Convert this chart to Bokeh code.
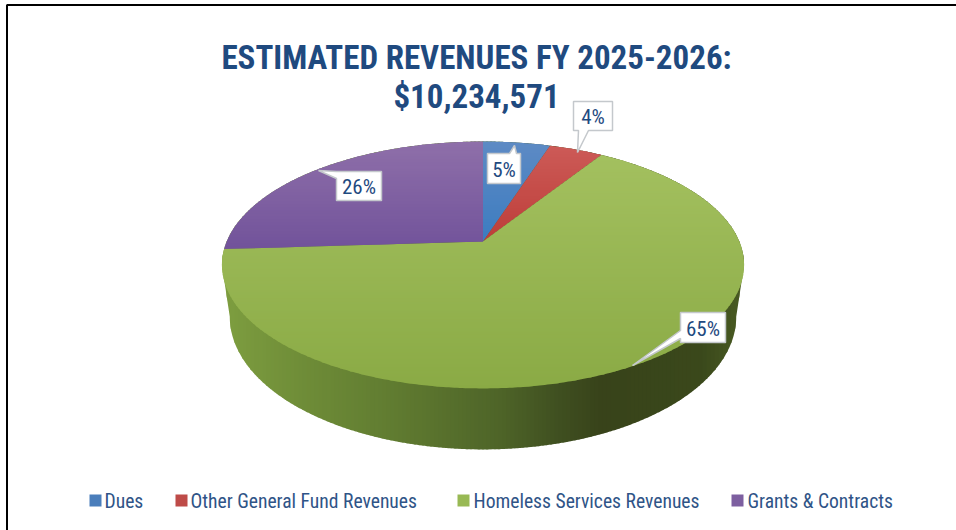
import numpy as np
from bokeh.plotting import figure
from bokeh.models import Range1d
from bokeh.core.properties import value
from bokeh.embed import file_html
from bokeh.resources import INLINE

# ---- data ----
categories = ["Dues", "Other General Fund Revenues", "Homeless Services Revenues", "Grants & Contracts"]
shares = [5, 4, 65, 26]
title_lines = ["ESTIMATED REVENUES FY 2025-2026:", "$10,234,571"]

# ---- styles ----
TITLE_FONT = "'Roboto Condensed', Roboto"
BODY_FONT = "'Roboto Condensed', Roboto"
NAVY = "#1f4a7f"
top_colours = [("#5d8ac4", "#3b7cc0"), ("#cc5a57", "#bd3d38"), ("#a3c05f", "#8aaa45"), ("#8e6fa9", "#71529a")]
swatches = ["#4a7ebb", "#be4b48", "#98b954", "#7d5fa0"]
side_stops_x = [221, 300, 400, 500, 560, 600, 700, 744]
side_stops_c = ["#7e9e40", "#6f8d38", "#5f7a30", "#4e6428", "#3f4f20", "#38431a", "#3a481b", "#4a5c23"]


def rgb(h):
    return np.array([int(h[i:i + 2], 16) for i in (1, 3, 5)], float)


def mix(a, b, t):
    c = rgb(a) * (1 - t) + rgb(b) * t
    return "#%02x%02x%02x" % tuple(int(round(v)) for v in c)


def ramp(xs, cs, x):
    i = int(np.clip(np.searchsorted(xs, x) - 1, 0, len(xs) - 2))
    t = float(np.clip((x - xs[i]) / (xs[i + 1] - xs[i]), 0, 1))
    return mix(cs[i], cs[i + 1], t)


# perspective projection of the pie disc on the page
AX, AY = 482.5, 241.0
C, A_, K = 0.19, 119.0, 256.3


def project(deg, r=1.0):
    t = np.radians(deg)
    u, v = r * np.sin(t), r * np.cos(t)
    d = 1 + C * v
    return AX + K * u / d, AY - A_ * v / d


def lower(x, y):
    return AX + 0.97 * (x - AX), AY + 50 + (y - AY) * 1.075


def clip(poly, axis, lo, hi):
    """Sutherland-Hodgman against a band on one axis."""
    def cut(pts, keep, bound):
        out = []
        for i in range(len(pts)):
            a, b = pts[i], pts[(i + 1) % len(pts)]
            ka, kb = keep(a[axis]), keep(b[axis])
            if ka:
                out.append(a)
            if ka != kb:
                t = (bound - a[axis]) / (b[axis] - a[axis])
                out.append((a[0] + t * (b[0] - a[0]), a[1] + t * (b[1] - a[1])))
        return out
    pts = cut(poly, lambda s: s >= lo, lo)
    if pts:
        pts = cut(pts, lambda s: s <= hi, hi)
    return pts


p = figure(width=956, height=530, output_backend="svg", toolbar_location=None, tools="",
           x_range=Range1d(0, 956), y_range=Range1d(530, 0), min_border=0,
           outline_line_color=None, background_fill_color="white", border_fill_color="white",
           styles={"position": "absolute", "left": "0px", "top": "0px"})
p.xaxis.visible = False
p.yaxis.visible = False
p.grid.visible = False

# page frame
p.line([6.5, 6.5, 956], [530, 4.5, 4.5], line_color="#000000", line_width=2)

# side wall
angles = np.linspace(0, 360, 721)
ux, uy = project(angles)
lx, ly = lower(ux, uy)
il, ir = int(np.argmin(lx)), int(np.argmax(lx))
jl, jr = int(np.argmin(ux)), int(np.argmax(ux))
low_front = [(lx[i], ly[i]) for i in range(il, ir - 1, -1)]
up_back = [(ux[i % 720], uy[i % 720]) for i in range(jr, jl - 720 - 1, -1)]
wall = low_front + up_back
xs, ys, cols = [], [], []
for x0 in np.arange(218, 748, 4):
    pts = clip(wall, 0, x0, x0 + 5)
    if len(pts) >= 3:
        xs.append([q[0] for q in pts])
        ys.append([q[1] for q in pts])
        cols.append(ramp(side_stops_x, side_stops_c, x0 + 2))
p.patches(xs, ys, fill_color=cols, line_color=None)

# top surface: wedges built from the shares, shaded top to bottom
cum = np.concatenate([[0], np.cumsum(shares)]) * 3.6
xs, ys, cols = [], [], []
for k in range(len(shares)):
    ang = np.linspace(cum[k], cum[k + 1], max(int(cum[k + 1] - cum[k]), 2) * 2)
    wx, wy = project(ang)
    poly = [(AX, AY)] + list(zip(wx, wy))
    yy = [q[1] for q in poly]
    ymin, ymax = min(yy), max(yy)
    for y0 in np.arange(np.floor(ymin), ymax, 3):
        pts = clip(poly, 1, y0, y0 + 4)
        if len(pts) >= 3:
            xs.append([q[0] for q in pts])
            ys.append([q[1] for q in pts])
            cols.append(mix(*top_colours[k], float(np.clip((y0 - ymin) / (ymax - ymin), 0, 1))))
p.patches(xs, ys, fill_color=cols, line_color=None)

# callouts: white boxes (left, right, top, bottom) with their pointers
callouts = [
    ((487, 520, 153, 183), [(487, 153), (509, 153), (514, 145), (516, 153), (520, 153), (520, 183), (487, 183)]),
    ((573, 612, 101, 130), [(573, 101), (612, 101), (612, 130), (588, 130), (577, 152), (578, 130), (573, 130)]),
    ((680, 725, 312, 342), [(680, 312), (725, 312), (725, 342), (680, 342), (680, 338), (632, 365), (680, 330)]),
    ((336, 381, 171, 200), [(336, 171), (381, 171), (381, 200), (336, 200), (336, 178), (318, 170)]),
]
for share, ((l, r, t, b), outline) in zip(shares, callouts):
    p.patch([q[0] for q in outline], [q[1] for q in outline], fill_color="white",
            line_color="#c4c8cc", line_width=1.5)
    p.text([(l + r) / 2], [(t + b) / 2 + 1], text=[f"{share}%"], text_align="center", text_baseline="middle",
           text_font=value(BODY_FONT), text_font_size="21px", text_color=NAVY)

# title
p.text([476, 476], [57, 96], text=title_lines, text_align="center", text_baseline="middle",
       text_font=value(TITLE_FONT), text_font_style="bold", text_font_size="33px", text_color=NAVY)

# legend
sw_x = [95, 181, 463, 737]
tx_x = [104, 190, 473, 747]
p.rect(sw_x, [500] * 4, width=12, height=12, fill_color=swatches, line_color=None)
p.text(tx_x, [501] * 4, text=categories, text_baseline="middle", text_align="left",
       text_font=value(BODY_FONT), text_font_size="19.6px", text_color="#2f5487")

open("out.html", "w").write(file_html(p, INLINE))
